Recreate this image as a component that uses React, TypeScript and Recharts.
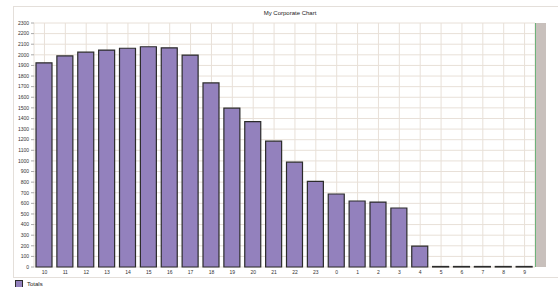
import { BarChart, Bar, XAxis, YAxis, CartesianGrid } from "recharts";

const hours = [
  "10", "11", "12", "13", "14", "15", "16", "17", "18", "19", "20", "21",
  "22", "23", "0", "1", "2", "3", "4", "5", "6", "7", "8", "9",
];
const totals = [
  1925, 1990, 2025, 2045, 2062, 2076, 2066, 1998, 1735, 1497, 1371, 1186,
  988, 808, 688, 622, 612, 556, 196, 5, 5, 5, 5, 5,
];
const yTicks = [
  0, 100, 200, 300, 400, 500, 600, 700, 800, 900, 1000, 1100, 1200, 1300,
  1400, 1500, 1600, 1700, 1800, 1900, 2000, 2100, 2200, 2300,
];
const seriesName = "Totals";
const title = "My Corporate Chart";

const data = hours.map((h, i) => ({ hour: h, [seriesName]: totals[i] }));

const font = "Arial, 'Liberation Sans', sans-serif";

export default function App() {
  return (
    <div
      style={{
        position: "absolute",
        left: 0,
        top: 0,
        width: 558,
        height: 287,
        background: "#fff",
        fontFamily: font,
        overflow: "hidden",
      }}
    >
      {/* outer frame */}
      <div
        style={{
          position: "absolute",
          left: 13,
          top: 6,
          width: 560,
          height: 272,
          border: "1px solid #e4dfda",
          boxSizing: "border-box",
        }}
      />
      <div
        style={{
          position: "absolute",
          left: 0,
          width: 580,
          top: 10,
          textAlign: "center",
          fontSize: 6,
          color: "#222",
        }}
      >
        {title}
      </div>
      <div style={{ position: "absolute", left: 0, top: 0 }}>
        <BarChart
          width={558}
          height={287}
          data={data}
          margin={{ top: 23, right: 23, left: 0, bottom: 10 }}
        >
          <CartesianGrid stroke="#e8e0d8" strokeWidth={1} />
          <XAxis
            dataKey="hour"
            height={10}
            axisLine={false}
            tickLine={false}
            tickSize={2}
            tick={{ fontSize: 5, fill: "#333", fontFamily: font }}
            tickMargin={1}
            interval={0}
          />
          <YAxis
            width={34}
            domain={[0, 2300]}
            ticks={yTicks}
            interval={0}
            axisLine={false}
            tickSize={3}
            tickLine={{ stroke: "#aaa" }}
            tick={{ fontSize: 5, fill: "#333", fontFamily: font }}
          />
          <Bar
            dataKey={seriesName}
            fill="#9381bd"
            stroke="#2b2b2b"
            strokeWidth={1.2}
            barSize={16}
            isAnimationActive={false}
          />
        </BarChart>
      </div>
      {/* right wall */}
      <div
        style={{
          position: "absolute",
          left: 535,
          top: 23,
          width: 11,
          height: 244,
          background: "#c8c0bc",
          borderLeft: "1.5px solid #6db27b",
          boxSizing: "border-box",
        }}
      />
      {/* legend */}
      <div
        style={{
          position: "absolute",
          left: 15,
          top: 280,
          display: "flex",
          alignItems: "center",
          fontSize: 6,
          color: "#222",
        }}
      >
        <span
          style={{
            display: "inline-block",
            width: 6,
            height: 6,
            background: "#9381bd",
            border: "1px solid #2b2b2b",
            marginRight: 4,
          }}
        />
        {seriesName}
      </div>
    </div>
  );
}
